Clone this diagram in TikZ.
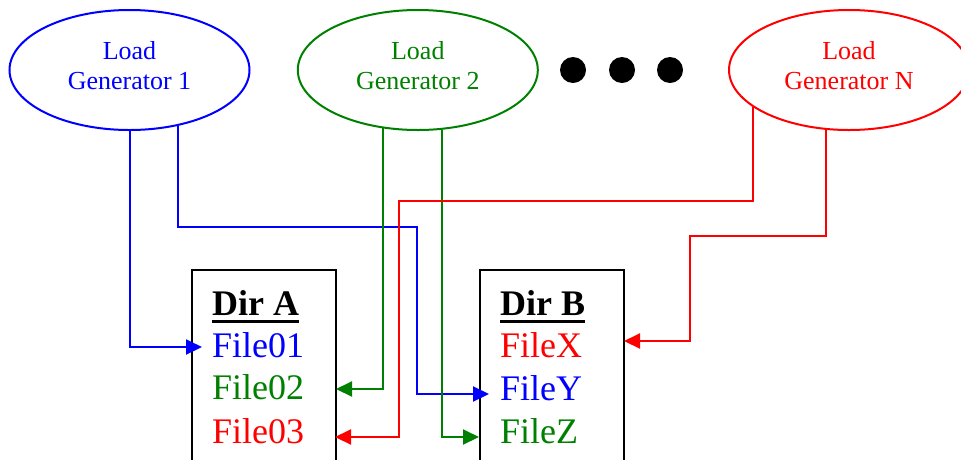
\documentclass[tikz,border=0pt]{standalone}
\usepackage{fontspec}
\setmainfont{Liberation Serif}
\usetikzlibrary{shapes.geometric,arrows.meta}
\definecolor{lgblue}{RGB}{0,0,255}
\definecolor{lggreen}{RGB}{0,128,0}
\definecolor{lgred}{RGB}{255,0,0}
\tikzset{
  gen/.style={ellipse, draw, line width=2pt, minimum width=240pt, minimum height=120pt, inner sep=0pt},
  genlabel/.style={font=\fontsize{26}{30}\selectfont, align=center, yshift=4pt},
  dirbox/.style={draw, line width=2.2pt, minimum width=144pt, minimum height=230pt, anchor=north west, inner sep=0pt},
  ft/.style={font=\fontsize{36}{40}\selectfont, inner sep=0pt, anchor=base west},
  dt/.style={font=\fontsize{36}{40}\selectfont\bfseries, inner sep=0pt, anchor=base west},
  conn/.style={line width=2pt, -{Triangle[length=16pt,width=15pt]}},
  dot/.style={circle, fill=black, minimum size=26pt, inner sep=0pt},
}
\begin{document}
\begin{tikzpicture}[x=1pt,y=-1pt]
\clip (0,0) rectangle (961,459);
% generators
\node[gen, draw=lgblue, label={[genlabel,text=lgblue]center:Load\\Generator 1}] (g1) at (129.5,70) {};
\node[gen, draw=lggreen, label={[genlabel,text=lggreen]center:Load\\Generator 2}] (g2) at (417.8,70) {};
\node[gen, draw=lgred, label={[genlabel,text=lgred]center:Load\\Generator N}] (gN) at (849,70) {};
% dots
\node[dot] (d1) at (573,70) {};
\node[dot] (d2) at (622,70) {};
\node[dot] (d3) at (670,70) {};
% directories
\node[dirbox] (boxA) at (191,269) {};
\node[dirbox] (boxB) at (479,269) {};
\node[dt] (dirA) at (212,315) {Dir A};
\node[dt] (dirB) at (500,315) {Dir B};
\draw[line width=3.4pt] ([yshift=-6pt]dirA.south west) -- ([yshift=-6pt]dirA.south east);
\draw[line width=3.4pt] ([yshift=-6pt]dirB.south west) -- ([yshift=-6pt]dirB.south east);
\node[ft, text=lgblue] (f01) at (212,357) {File01};
\node[ft, text=lggreen] (f02) at (212,399) {File02};
\node[ft, text=lgred] (f03) at (212,443) {File03};
\node[ft, text=lgred] (fX) at (500,357) {FileX};
\node[ft, text=lgblue] (fY) at (500,400) {FileY};
\node[ft, text=lggreen] (fZ) at (500,443) {FileZ};
% arrow end points
\coordinate (a01) at (202,347);
\coordinate (a02) at (336,389);
\coordinate (a03) at (335,437);
\coordinate (aX) at (624,341);
\coordinate (aY) at (489,394);
\coordinate (aZ) at (479,437);
% connectors
\draw[conn, lgblue] (g1.south) |- (a01);
\draw[conn, lgblue] (g1.-49.3) |- (417,227) |- (aY);
\draw[conn, lggreen] (g2.-121.5) |- (a02);
\draw[conn, lggreen] (g2.-68) |- (aZ);
\draw[conn, lgred] (gN.-159.4) |- (399,201) |- (a03);
\draw[conn, lgred] (gN.-111.3) |- (690,236) |- (aX);
\end{tikzpicture}
\end{document}
